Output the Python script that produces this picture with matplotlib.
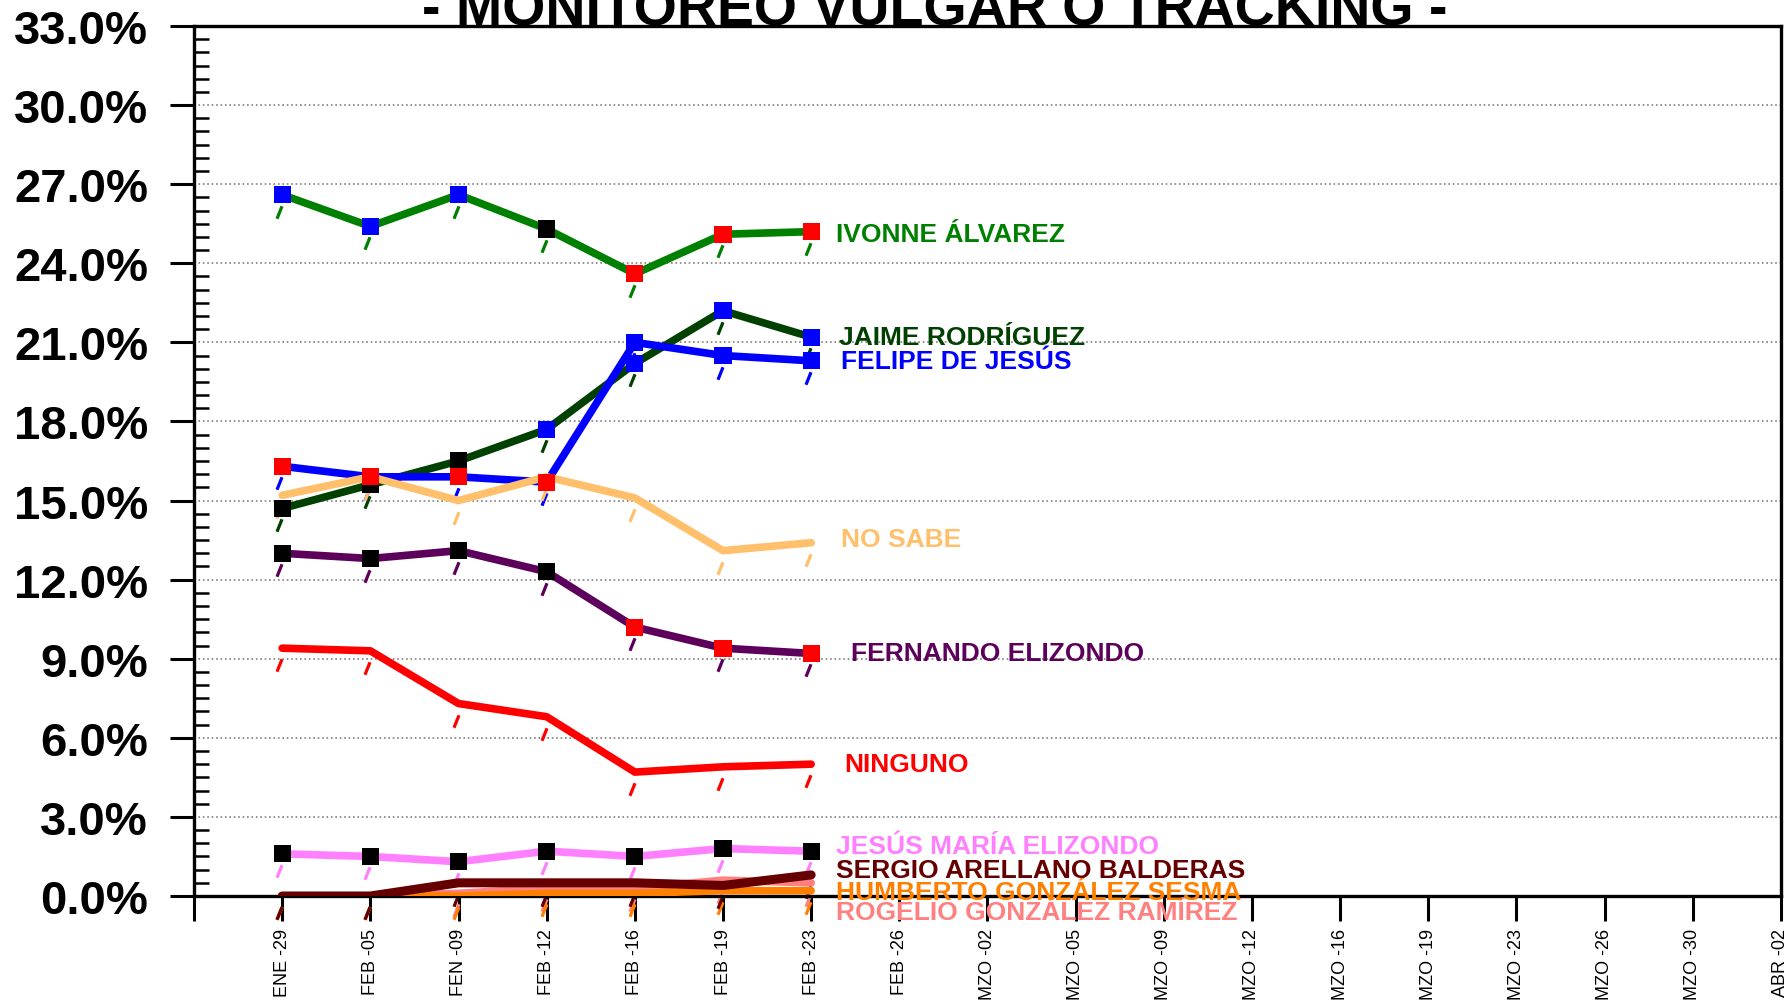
import numpy as np
import matplotlib.pyplot as plt
from matplotlib import font_manager
from matplotlib.path import Path
from matplotlib.transforms import offset_copy

# fechas del tracking (eje x)
fechas = ['ENE -29', 'FEB -05', 'FEN -09', 'FEB -12', 'FEB -16', 'FEB -19', 'FEB -23',
          'FEB -26', 'MZO -02', 'MZO -05', 'MZO -09', 'MZO -12', 'MZO -16', 'MZO -19',
          'MZO -23', 'MZO -26', 'MZO -30', 'ABR -02']

# porcentajes por candidato
ivonne = [26.6, 25.4, 26.6, 25.3, 23.6, 25.1, 25.2]
jaime = [14.7, 15.6, 16.5, 17.7, 20.2, 22.2, 21.2]
felipe = [16.3, 15.9, 15.9, 15.7, 21.0, 20.5, 20.3]
no_sabe = [15.2, 15.9, 15.0, 15.9, 15.1, 13.1, 13.4]
fernando = [13.0, 12.8, 13.1, 12.3, 10.2, 9.4, 9.2]
ninguno = [9.4, 9.3, 7.3, 6.8, 4.7, 4.9, 5.0]
jesus_maria = [1.6, 1.5, 1.3, 1.7, 1.5, 1.8, 1.7]
sergio = [0.0, 0.0, 0.5, 0.5, 0.5, 0.4, 0.8]
rogelio = [0.0, 0.0, 0.1, 0.3, 0.3, 0.6, 0.5]
humberto = [0.0, 0.0, 0.0, 0.1, 0.1, 0.2, 0.2]

# (nombre, valores, color, colores de los marcadores, grosor, posicion y de la etiqueta)
series = [
    ('IVONNE ÁLVAREZ', ivonne, '#008000', list('bbbkrrr'), 5.5, 25.1),
    ('JAIME RODRÍGUEZ', jaime, '#004000', list('kkkbbbb'), 5.5, 21.2),
    ('FELIPE DE JESÚS', felipe, '#0000ff', list('rrrrbbb'), 5.5, 20.3),
    ('NO SABE', no_sabe, '#ffbf6b', None, 5.5, 13.55),
    ('FERNANDO ELIZONDO', fernando, '#5c005c', list('kkkkrrr'), 5.5, 9.2),
    ('NINGUNO', ninguno, '#ff0000', None, 5.5, 5.0),
    ('JESÚS MARÍA ELIZONDO', jesus_maria, '#ff80ff', list('kkkkkkk'), 5.5, 1.9),
    ('ROGELIO GONZÁLEZ RAMÍREZ', rogelio, '#ff8080', None, 5.5, -0.6),
    ('HUMBERTO GONZÁLEZ SESMA', humberto, '#ff8000', None, 5.5, 0.17),
    ('SERGIO ARELLANO BALDERAS', sergio, '#660000', None, 6.5, 1.0),
]
etiqueta_x = {'FERNANDO ELIZONDO': 7.45, 'NINGUNO': 7.37, 'NO SABE': 7.34,
              'FELIPE DE JESÚS': 7.34, 'JAIME RODRÍGUEZ': 7.32}

fig = plt.figure(figsize=(17.9, 10.03), dpi=100)
ax = fig.add_axes([194 / 1790, 1 - 897 / 1003, (1781 - 194) / 1790, (897 - 27) / 1003])

x = np.arange(1, len(ivonne) + 1)

# marca "/" debajo de cada punto
raya = Path([(-0.2, -0.5), (0.2, 0.5)], [Path.MOVETO, Path.LINETO])
trans_raya = offset_copy(ax.transData, fig=fig, x=-3, y=-17, units='dots')

for nombre, v, c, mk, lw, ylab in series:
    ax.plot(x, v, color=c, lw=lw, solid_capstyle='round', solid_joinstyle='round', zorder=3)
    ax.plot(x, v, ls='none', marker=raya, ms=9, mew=2.3, mec=c, transform=trans_raya,
            clip_on=False, zorder=2)
    if mk is not None:
        ax.scatter(x, v, marker='s', s=150, c=mk, linewidths=0, zorder=5, clip_on=False)
    ax.text(etiqueta_x.get(nombre, 7.28), ylab, nombre, color=c, fontsize=19,
            fontweight='bold', family='Liberation Sans', va='center', ha='left', zorder=6)

ax.set_xlim(0, 18)
ax.set_ylim(0, 33)

ax.set_xticks(np.arange(0, 19))
ax.set_xticklabels([''] + fechas, rotation=90, fontsize=13, family='Liberation Sans')
ax.tick_params(axis='x', direction='out', length=18, width=2.2, pad=5)

ax.set_yticks(np.arange(0, 34, 3))
ax.set_yticklabels(['%.1f%%' % t for t in np.arange(0, 34, 3)], fontsize=34,
                   fontweight='bold', family='Liberation Sans')
ax.set_yticks(np.arange(0, 33.01, 0.5), minor=True)
ax.tick_params(axis='y', which='major', direction='out', length=17, width=2.2, pad=16)
ax.tick_params(axis='y', which='minor', direction='in', length=11, width=1.8)

ax.yaxis.grid(True, which='major', linestyle=':', color='#808080', lw=1.2)
ax.set_axisbelow(True)
for s in ax.spines.values():
    s.set_linewidth(2.4)

# titulo, cortado en el borde superior como en el original
nombres = {f.name for f in font_manager.fontManager.ttflist}
if 'Liberation Sans Narrow' in nombres:
    fig.text(0.522, 1 - 25 / 1003, '- MONITOREO VULGAR O TRACKING -', ha='center',
             va='baseline', fontsize=49, fontweight='bold', family='Liberation Sans Narrow')
else:
    fig.text(0.522, 1 - 25 / 1003, '- MONITOREO VULGAR O TRACKING -', ha='center',
             va='baseline', fontsize=40, fontweight='bold', family='Liberation Sans')

plt.savefig('out.png', dpi=100)
